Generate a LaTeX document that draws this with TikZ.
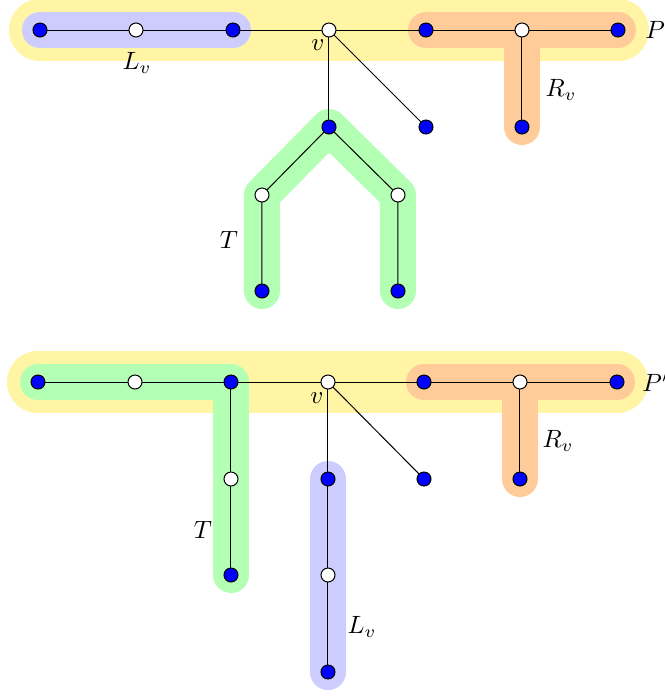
\documentclass[tikz,border=0pt]{standalone}
\begin{document}
\begin{tikzpicture}[x=0.4pt,y=-0.4pt,
  bnode/.style={circle,draw=black,fill=blue,minimum size=5.6pt,inner sep=0pt,line width=0.4pt},
  wnode/.style={circle,draw=black,fill=white,minimum size=5.6pt,inner sep=0pt,line width=0.4pt},
  ybandstyle/.style={line width=24.8pt,line cap=round,line join=round,draw={rgb,255:red,255;green,245;blue,165}},
  bbandstyle/.style={line width=14.4pt,line cap=round,line join=round,draw={rgb,255:red,204;green,204;blue,255}},
  obandstyle/.style={line width=14.4pt,line cap=round,line join=round,draw={rgb,255:red,255;green,204;blue,153}},
  gbandstyle/.style={line width=14.4pt,line cap=round,line join=round,draw={rgb,255:red,179;green,255;blue,179}},
  edge/.style={draw=black,line width=0.4pt},
  lbl/.style={inner sep=0pt}]
\useasboundingbox (0,0) rectangle (665,696);
% ---------- top diagram coordinates ----------
\coordinate (a1) at (40,30);
\coordinate (a2) at (136,30);
\coordinate (a3) at (233,30);
\coordinate (av) at (329,30);
\coordinate (a5) at (426,30);
\coordinate (a6) at (522,30);
\coordinate (a7) at (618,30);
\coordinate (ad) at (426,127);
\coordinate (ar) at (522,127);
\coordinate (at) at (329,127);
\coordinate (tl) at (262,195);
\coordinate (tr) at (398,195);
\coordinate (tll) at (262,291);
\coordinate (trr) at (398,291);
% bands
\draw[ybandstyle] (a1) -- (a7);
\draw[bbandstyle] (a1) -- (a3);
\draw[obandstyle] (a5) -- (a7);
\draw[obandstyle] (a6) -- (ar);
\draw[gbandstyle] (tll) -- (tl) -- (at) -- (tr) -- (trr);
% edges
\draw[edge] (a1) -- (a7);
\draw[edge] (a6) -- (ar);
\draw[edge] (av) -- (ad);
\draw[edge] (av) -- (at);
\draw[edge] (tll) -- (tl) -- (at) -- (tr) -- (trr);
% nodes
\node[bnode] (n1) at (a1) {};
\node[wnode] (n2) at (a2) {};
\node[bnode] (n3) at (a3) {};
\node[wnode] (nv) at (av) {};
\node[bnode] (n5) at (a5) {};
\node[wnode] (n6) at (a6) {};
\node[bnode] (n7) at (a7) {};
\node[bnode] (nd) at (ad) {};
\node[bnode] (nr) at (ar) {};
\node[bnode] (nt) at (at) {};
\node[wnode] (ntl) at (tl) {};
\node[wnode] (ntr) at (tr) {};
\node[bnode] (ntll) at (tll) {};
\node[bnode] (ntrr) at (trr) {};
% labels
\node[lbl] (lLv) at (137,63) {$L_v$};
\node[lbl] (lRv) at (561,90) {$R_v$};
\node[lbl] (lT) at (229,240) {$T$};
\node[lbl] (lv) at (318,45) {$v$};
\node[lbl,anchor=west] (lP) at (645,30) {$P$};
% ---------- bottom diagram coordinates ----------
\coordinate (b1) at (38,382);
\coordinate (b2) at (135,382);
\coordinate (b3) at (231,382);
\coordinate (bv) at (328,382);
\coordinate (b5) at (424,382);
\coordinate (b6) at (520,382);
\coordinate (b7) at (617,382);
\coordinate (bt1) at (231,479);
\coordinate (bt2) at (231,575);
\coordinate (bl1) at (328,479);
\coordinate (bl2) at (328,575);
\coordinate (bl3) at (328,672);
\coordinate (bd) at (424,479);
\coordinate (br) at (520,479);
% bands
\draw[ybandstyle] (b1) -- (b7);
\draw[gbandstyle] (b1) -- (b3) -- (bt2);
\draw[obandstyle] (b5) -- (b7);
\draw[obandstyle] (b6) -- (br);
\draw[bbandstyle] (bl1) -- (bl3);
% edges
\draw[edge] (b1) -- (b7);
\draw[edge] (b3) -- (bt2);
\draw[edge] (bv) -- (bl3);
\draw[edge] (bv) -- (bd);
\draw[edge] (b6) -- (br);
% nodes
\node[bnode] (m1) at (b1) {};
\node[wnode] (m2) at (b2) {};
\node[bnode] (m3) at (b3) {};
\node[wnode] (mv) at (bv) {};
\node[bnode] (m5) at (b5) {};
\node[wnode] (m6) at (b6) {};
\node[bnode] (m7) at (b7) {};
\node[wnode] (mt1) at (bt1) {};
\node[bnode] (mt2) at (bt2) {};
\node[bnode] (ml1) at (bl1) {};
\node[wnode] (ml2) at (bl2) {};
\node[bnode] (ml3) at (bl3) {};
\node[bnode] (md) at (bd) {};
\node[bnode] (mr) at (br) {};
% labels
\node[lbl] (mT) at (203,530) {$T$};
\node[lbl] (mLv) at (362,627) {$L_v$};
\node[lbl] (mRv) at (558,441) {$R_v$};
\node[lbl] (mv2) at (317,398) {$v$};
\node[lbl,anchor=west] (mP) at (642,382) {$P'$};
\end{tikzpicture}
\end{document}
